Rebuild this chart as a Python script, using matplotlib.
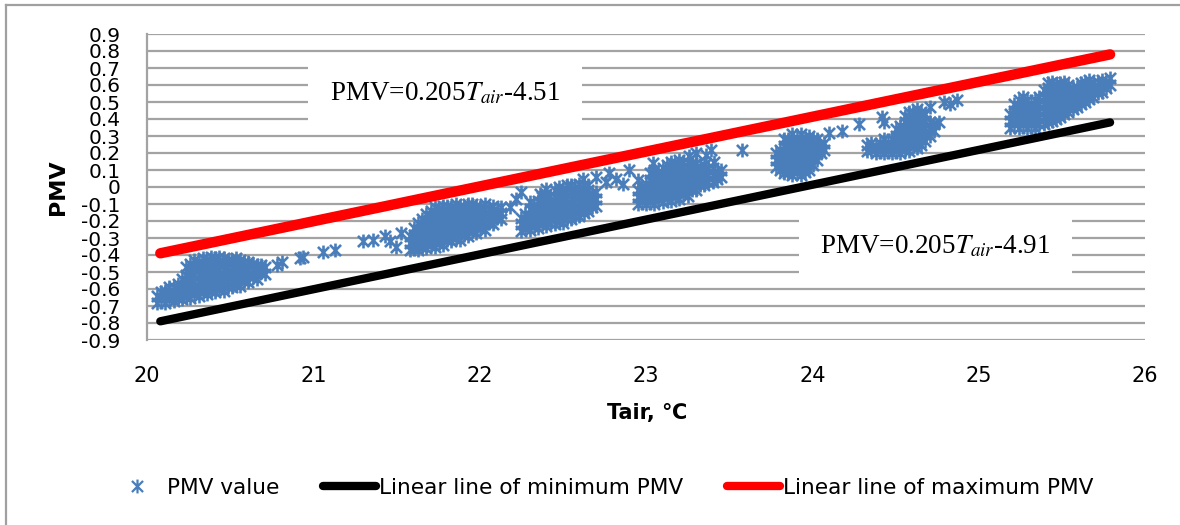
import matplotlib.pyplot as plt
from matplotlib.path import Path
from matplotlib.lines import Line2D

plt.rcParams['font.family'] = ['DejaVu Sans']
plt.rcParams['mathtext.fontset'] = 'stix'

# Tair (deg C) columns and the PMV values plotted at each, one dict per cluster of points
cluster1 = {
    20.06: [-0.68, -0.64], 20.085: [-0.66, -0.62],
    20.11: [-0.68, -0.64, -0.61], 20.135: [-0.66, -0.62, -0.59],
    20.16: [-0.67, -0.63, -0.59], 20.185: [-0.65, -0.61, -0.57],
    20.21: [-0.66, -0.62, -0.58, -0.54], 20.235: [-0.64, -0.60, -0.56, -0.52, -0.47],
    20.26: [-0.65, -0.61, -0.57, -0.53, -0.49, -0.45], 20.285: [-0.63, -0.59, -0.55, -0.51, -0.47, -0.43],
    20.31: [-0.64, -0.60, -0.56, -0.52, -0.48, -0.44], 20.335: [-0.62, -0.58, -0.54, -0.50, -0.46, -0.42],
    20.36: [-0.63, -0.59, -0.55, -0.51, -0.47, -0.43], 20.385: [-0.61, -0.57, -0.53, -0.49, -0.45, -0.41],
    20.41: [-0.62, -0.58, -0.54, -0.50, -0.46, -0.42], 20.435: [-0.60, -0.56, -0.52, -0.48, -0.44, -0.41],
    20.46: [-0.61, -0.57, -0.53, -0.49, -0.45, -0.42], 20.485: [-0.59, -0.55, -0.51, -0.47, -0.43],
    20.51: [-0.59, -0.55, -0.51, -0.47, -0.43], 20.535: [-0.57, -0.53, -0.49, -0.45, -0.42],
    20.56: [-0.58, -0.54, -0.50, -0.46, -0.43], 20.585: [-0.55, -0.51, -0.47, -0.44],
    20.61: [-0.56, -0.52, -0.48, -0.44], 20.635: [-0.53, -0.49, -0.45],
    20.66: [-0.54, -0.50, -0.46], 20.685: [-0.50, -0.46],
    20.71: [-0.51, -0.47],
}
cluster2 = {
    21.58: [-0.37, -0.33, -0.29], 21.605: [-0.36, -0.32, -0.28, -0.24],
    21.63: [-0.37, -0.33, -0.29, -0.25, -0.21], 21.655: [-0.35, -0.31, -0.27, -0.23, -0.19],
    21.68: [-0.36, -0.32, -0.28, -0.24, -0.20, -0.16], 21.705: [-0.34, -0.30, -0.26, -0.22, -0.18, -0.14],
    21.73: [-0.35, -0.31, -0.27, -0.23, -0.19, -0.15, -0.12], 21.755: [-0.33, -0.29, -0.25, -0.21, -0.17, -0.13],
    21.78: [-0.34, -0.30, -0.26, -0.22, -0.18, -0.14, -0.11], 21.805: [-0.31, -0.27, -0.23, -0.19, -0.15, -0.11],
    21.83: [-0.32, -0.28, -0.24, -0.20, -0.16, -0.12], 21.855: [-0.30, -0.26, -0.22, -0.18, -0.14, -0.10],
    21.88: [-0.31, -0.27, -0.23, -0.19, -0.15, -0.11], 21.905: [-0.28, -0.24, -0.20, -0.16, -0.12],
    21.93: [-0.29, -0.25, -0.21, -0.17, -0.13, -0.10], 21.955: [-0.26, -0.22, -0.18, -0.14, -0.10],
    21.98: [-0.27, -0.23, -0.19, -0.15, -0.11], 22.005: [-0.24, -0.20, -0.16, -0.12],
    22.03: [-0.25, -0.21, -0.17, -0.13, -0.10], 22.055: [-0.21, -0.17, -0.13],
    22.08: [-0.22, -0.18, -0.14, -0.11], 22.105: [-0.18, -0.14],
    22.13: [-0.19, -0.15, -0.12],
}
cluster3 = {
    22.25: [-0.26, -0.22, -0.18], 22.275: [-0.24, -0.20, -0.16],
    22.30: [-0.25, -0.21, -0.17, -0.13], 22.325: [-0.23, -0.19, -0.15, -0.11],
    22.35: [-0.24, -0.20, -0.16, -0.12, -0.08], 22.375: [-0.22, -0.18, -0.14, -0.10, -0.06],
    22.40: [-0.23, -0.19, -0.15, -0.11, -0.07, -0.04], 22.425: [-0.21, -0.17, -0.13, -0.09, -0.05],
    22.45: [-0.22, -0.18, -0.14, -0.10, -0.06, -0.02], 22.475: [-0.20, -0.16, -0.12, -0.08, -0.04, 0.00],
    22.50: [-0.21, -0.17, -0.13, -0.09, -0.05, -0.01], 22.525: [-0.19, -0.15, -0.11, -0.07, -0.03, 0.01],
    22.55: [-0.19, -0.15, -0.11, -0.07, -0.03, 0.01], 22.575: [-0.17, -0.13, -0.09, -0.05, -0.01],
    22.60: [-0.17, -0.13, -0.09, -0.05, -0.01, 0.02], 22.625: [-0.15, -0.11, -0.07, -0.03, 0.01],
    22.65: [-0.14, -0.10, -0.06, -0.02, 0.01], 22.675: [-0.12, -0.08, -0.04],
    22.70: [-0.11, -0.07, -0.03],
}
cluster4 = {
    22.95: [-0.10, -0.06, -0.02], 22.975: [-0.08, -0.04, 0.00],
    23.00: [-0.10, -0.06, -0.02, 0.02], 23.025: [-0.08, -0.04, 0.00, 0.04, 0.08],
    23.05: [-0.10, -0.06, -0.02, 0.02, 0.06, 0.10], 23.075: [-0.07, -0.03, 0.01, 0.05, 0.09],
    23.10: [-0.09, -0.05, -0.01, 0.03, 0.07, 0.11], 23.125: [-0.06, -0.02, 0.02, 0.06, 0.10, 0.13],
    23.15: [-0.08, -0.04, 0.00, 0.04, 0.08, 0.12, 0.15], 23.175: [-0.05, -0.01, 0.03, 0.07, 0.11, 0.14],
    23.20: [-0.07, -0.03, 0.01, 0.05, 0.09, 0.13, 0.16], 23.225: [-0.04, 0.00, 0.04, 0.08, 0.12, 0.15],
    23.25: [-0.05, -0.01, 0.03, 0.07, 0.11, 0.15], 23.275: [-0.02, 0.02, 0.06, 0.10, 0.14],
    23.30: [-0.02, 0.02, 0.06, 0.10, 0.14], 23.325: [0.01, 0.05, 0.09, 0.12],
    23.35: [0.01, 0.05, 0.09, 0.13], 23.375: [0.03, 0.07, 0.11],
    23.40: [0.03, 0.07, 0.11], 23.425: [0.05, 0.09],
    23.45: [0.06, 0.10],
}
cluster5 = {
    23.78: [0.12, 0.16, 0.20], 23.805: [0.10, 0.14, 0.18, 0.22],
    23.83: [0.08, 0.12, 0.16, 0.20, 0.24, 0.28], 23.855: [0.08, 0.12, 0.16, 0.20, 0.24, 0.28],
    23.88: [0.07, 0.11, 0.15, 0.19, 0.23, 0.27, 0.31], 23.905: [0.09, 0.13, 0.17, 0.21, 0.25, 0.29],
    23.93: [0.07, 0.11, 0.15, 0.19, 0.23, 0.27, 0.31], 23.955: [0.09, 0.13, 0.17, 0.21, 0.25, 0.29],
    23.98: [0.10, 0.14, 0.18, 0.22, 0.26, 0.30], 24.005: [0.13, 0.17, 0.21, 0.25, 0.28],
    24.03: [0.16, 0.20, 0.24, 0.28], 24.05: [0.20, 0.24],
    24.07: [0.22, 0.26],
}
cluster6 = {
    24.33: [0.21, 0.25], 24.355: [0.22, 0.26],
    24.38: [0.20, 0.24], 24.405: [0.22, 0.26],
    24.43: [0.20, 0.24, 0.28], 24.455: [0.22, 0.26],
    24.48: [0.20, 0.24, 0.28], 24.505: [0.22, 0.26, 0.30, 0.34],
    24.53: [0.20, 0.24, 0.28, 0.32, 0.36], 24.555: [0.22, 0.26, 0.30, 0.34, 0.38, 0.42],
    24.58: [0.21, 0.25, 0.29, 0.33, 0.37, 0.41, 0.44], 24.605: [0.24, 0.28, 0.32, 0.36, 0.40, 0.44],
    24.63: [0.23, 0.27, 0.31, 0.35, 0.39, 0.43, 0.46], 24.655: [0.25, 0.29, 0.33, 0.37, 0.41, 0.44],
    24.68: [0.27, 0.31, 0.35, 0.39, 0.43], 24.705: [0.30, 0.34, 0.38],
    24.73: [0.33, 0.37],
}
cluster7 = {
    25.19: [0.35, 0.39, 0.43], 25.215: [0.37, 0.41, 0.45, 0.49],
    25.24: [0.35, 0.39, 0.43, 0.47, 0.51], 25.265: [0.37, 0.41, 0.45, 0.49, 0.53],
    25.29: [0.35, 0.39, 0.43, 0.47, 0.51], 25.315: [0.37, 0.41, 0.45, 0.49],
    25.34: [0.35, 0.39, 0.43, 0.47, 0.51], 25.365: [0.37, 0.41, 0.45, 0.49, 0.53],
    25.39: [0.37, 0.41, 0.45, 0.49, 0.53, 0.57], 25.415: [0.38, 0.42, 0.46, 0.50, 0.54, 0.58, 0.61],
    25.44: [0.39, 0.43, 0.47, 0.51, 0.55, 0.59, 0.62], 25.465: [0.40, 0.44, 0.48, 0.52, 0.56, 0.60],
    25.49: [0.41, 0.45, 0.49, 0.53, 0.57, 0.61], 25.515: [0.43, 0.47, 0.51, 0.55, 0.59, 0.62],
    25.54: [0.44, 0.48, 0.52, 0.56, 0.60], 25.565: [0.46, 0.50, 0.54, 0.58],
    25.59: [0.47, 0.51, 0.55, 0.59], 25.615: [0.49, 0.53, 0.57, 0.61],
    25.64: [0.50, 0.54, 0.58, 0.62], 25.665: [0.52, 0.56, 0.60, 0.63],
    25.69: [0.53, 0.57, 0.61], 25.715: [0.55, 0.59, 0.62],
    25.74: [0.56, 0.60, 0.63], 25.765: [0.58, 0.62],
    25.79: [0.60, 0.64],
}

# single points between the clusters
loose_t = [20.78, 20.81, 20.92, 20.94, 21.06, 21.13, 21.30, 21.36, 21.43, 21.46, 21.50, 21.53,
           22.18, 22.22, 22.25, 22.30, 22.36, 22.40, 22.62, 22.70, 22.76, 22.78, 22.82, 22.86,
           22.90, 22.95, 23.04, 23.26, 23.30, 23.36, 23.39, 23.41, 23.58, 24.10, 24.18, 24.28,
           24.42, 24.43, 24.71, 24.76, 24.79, 24.83, 24.87]
loose_v = [-0.46, -0.44, -0.42, -0.41, -0.38, -0.37, -0.32, -0.31, -0.29, -0.32, -0.35, -0.27,
           -0.12, -0.07, -0.03, -0.09, -0.04, -0.01, 0.05, 0.06, 0.03, 0.08, 0.05, 0.02,
           0.10, 0.04, 0.14, 0.18, 0.20, 0.19, 0.22, 0.15, 0.22, 0.32, 0.33, 0.37,
           0.41, 0.38, 0.47, 0.38, 0.50, 0.49, 0.51]

# linear envelope lines (PMV = 0.205*Tair - 4.91 / - 4.51)
line_t = [20.08, 25.79]
min_pmv = [-0.79, 0.38]
max_pmv = [-0.39, 0.78]

yticks = [-0.9, -0.8, -0.7, -0.6, -0.5, -0.4, -0.3, -0.2, -0.1, 0, 0.1, 0.2, 0.3, 0.4, 0.5, 0.6, 0.7, 0.8, 0.9]
ytick_labels = ['-0.9', '-0.8', '-0.7', '-0.6', '-0.5', '-0.4', '-0.3', '-0.2', '-0.1', '0',
                '0.1', '0.2', '0.3', '0.4', '0.5', '0.6', '0.7', '0.8', '0.9']
xticks = [20, 21, 22, 23, 24, 25, 26]

pmv_t = []
pmv_v = []
for cl in [cluster1, cluster2, cluster3, cluster4, cluster5, cluster6, cluster7]:
    for t, vals in cl.items():
        for v in vals:
            pmv_t.append(t)
            pmv_v.append(v)
pmv_t += loose_t
pmv_v += loose_v

# excel style star marker: x with a vertical bar
star = Path([(-1, -1), (1, 1), (-1, 1), (1, -1), (0, -1.25), (0, 1.25)],
            [Path.MOVETO, Path.LINETO, Path.MOVETO, Path.LINETO, Path.MOVETO, Path.LINETO])
blue = '#4a7ebb'

fig = plt.figure(figsize=(11.8, 5.25), dpi=100)
ax = fig.add_axes([147/1180, 1-340/525, 998/1180, 306/525])

ax.plot(pmv_t, pmv_v, linestyle='none', marker=star, markersize=10, markerfacecolor='none',
        markeredgecolor=blue, markeredgewidth=1.9, zorder=3)
ax.plot(line_t, min_pmv, color='black', lw=6, solid_capstyle='round', zorder=4)
ax.plot(line_t, max_pmv, color='#ff0000', lw=7.5, solid_capstyle='round', zorder=4)

ax.set_xlim(20, 26)
ax.set_ylim(-0.9, 0.9)
ax.set_xticks(xticks)
ax.set_xticklabels([str(x) for x in xticks])
ax.set_yticks(yticks)
ax.set_yticklabels(ytick_labels)
ax.tick_params(axis='both', length=0, labelsize=15)
ax.tick_params(axis='y', pad=19, labelsize=14.5)
ax.tick_params(axis='x', pad=19)
ax.yaxis.grid(True, color='#a3a3a3', lw=1.6)
ax.set_axisbelow(True)
for s in ['right', 'bottom', 'top']:
    ax.spines[s].set_visible(False)
ax.spines['left'].set_color('#a3a3a3')
ax.spines['left'].set_linewidth(1.6)

# equation boxes
ax.text(21.79, 0.55, 'PMV=0.205$T_{air}$-4.51', fontsize=19.5, family='Liberation Serif',
        ha='center', va='center', zorder=5,
        bbox=dict(boxstyle='square,pad=0.8', fc='white', ec='none'))
ax.text(24.74, -0.35, 'PMV=0.205$T_{air}$-4.91', fontsize=19.5, family='Liberation Serif',
        ha='center', va='center', zorder=5,
        bbox=dict(boxstyle='square,pad=0.8', fc='white', ec='none'))

fig.text(58/1180, 1-187/525, 'PMV', rotation=90, fontsize=16, fontweight='bold', ha='center', va='center')
fig.text(647/1180, 1-413/525, 'Tair, ℃', fontsize=15, fontweight='bold', ha='center', va='center')

handles = [
    Line2D([], [], linestyle='none', marker=star, markersize=10, markerfacecolor='none',
           markeredgecolor=blue, markeredgewidth=1.6),
    Line2D([], [], color='black', lw=6, solid_capstyle='round'),
    Line2D([], [], color='#ff0000', lw=6, solid_capstyle='round'),
]
fig.legend(handles, ['PMV value', 'Linear line of minimum PMV', 'Linear line of maximum PMV'],
           loc='center', bbox_to_anchor=(602/1180, 1-488/525), ncol=3, frameon=False,
           fontsize=15.6, handlelength=2.45, handletextpad=0.15, columnspacing=2.0)

# chart border (only top and left edges are visible in the crop)
fig.add_artist(Line2D([6/1180, 6/1180], [0, 1-5/525], color='#a0a0a0', lw=1.6))
fig.add_artist(Line2D([6/1180, 1], [1-5/525, 1-5/525], color='#a0a0a0', lw=1.6))

fig.savefig('out.png', dpi=100)
